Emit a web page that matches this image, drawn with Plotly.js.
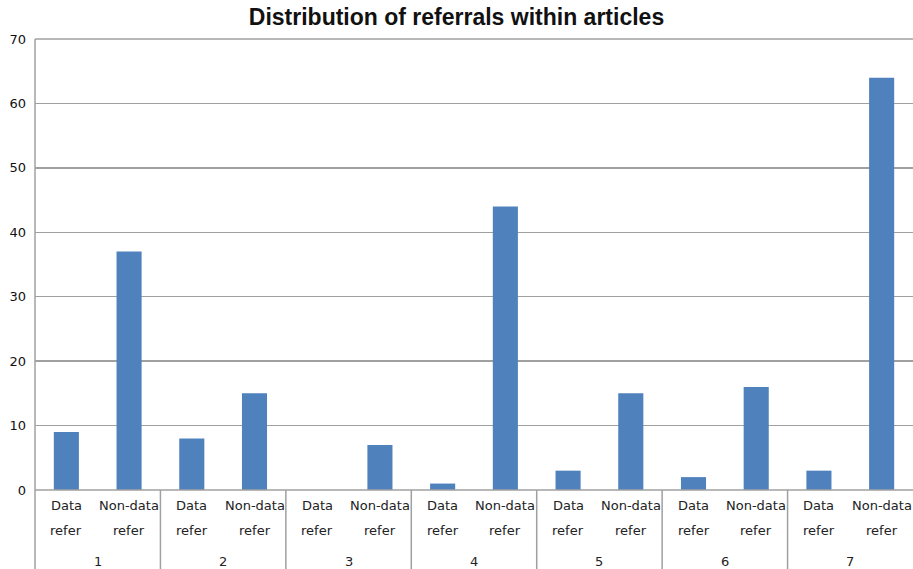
<!DOCTYPE html>
<html>
<head>
<meta charset="utf-8">
<script src="https://cdn.plot.ly/plotly-3.0.1.min.js"></script>
<style>html,body{margin:0;padding:0;background:#fff;}#chart{width:913px;height:569px;}</style>
</head>
<body>
<div id="chart"></div>
<script>
const groups = ["1", "2", "3", "4", "5", "6", "7"];
const subcatLine1 = ["Data", "Non-data"];
const subcatLine2 = ["refer", "refer"];
const dataRefer = [9, 8, 0, 1, 3, 2, 3];
const nonDataRefer = [37, 15, 7, 44, 15, 16, 64];
const yTicks = [0, 10, 20, 30, 40, 50, 60, 70];

const xs = [], ys = [];
groups.forEach((g, i) => {
  xs.push(2 * i, 2 * i + 1);
  ys.push(dataRefer[i], nonDataRefer[i]);
});

const lblFont = {family: 'DejaVu Sans', size: 13, color: '#222'};
const shapes = [];
const annotations = [];
groups.forEach((g, i) => {
  annotations.push({x: 2 * i + 0.5, xref: 'x', y: 0, yref: 'paper', yanchor: 'middle', yshift: -71,
    text: g, showarrow: false, font: lblFont});
  [0, 1].forEach(k => {
    annotations.push({x: 2 * i + k, xref: 'x', y: 0, yref: 'paper', yanchor: 'middle', yshift: -15,
      text: subcatLine1[k], showarrow: false, font: lblFont});
    annotations.push({x: 2 * i + k, xref: 'x', y: 0, yref: 'paper', yanchor: 'middle', yshift: -40,
      text: subcatLine2[k], showarrow: false, font: lblFont});
  });
  if (i > 0) {
    shapes.push({type: 'line', xref: 'x', yref: 'paper', x0: 2 * i - 0.5, x1: 2 * i - 0.5,
      y0: 0, y1: -0.2, line: {color: '#a0a0a0', width: 1.5}});
  }
});
shapes.push({type: 'line', xref: 'paper', yref: 'paper', x0: 0, x1: 0, y0: 1, y1: -0.2,
  line: {color: '#a0a0a0', width: 1.5}});
shapes.push({type: 'line', xref: 'paper', yref: 'paper', x0: 0, x1: 1, y0: 1, y1: 1,
  line: {color: '#a0a0a0', width: 1.5}});
shapes.push({type: 'line', xref: 'paper', yref: 'paper', x0: 0, x1: 1, y0: 0, y1: 0,
  line: {color: '#a0a0a0', width: 1.5}});

Plotly.newPlot('chart', [{
  type: 'bar', x: xs, y: ys, width: 0.4,
  marker: {color: '#4f81bd', line: {width: 0}}, hoverinfo: 'y'
}], {
  width: 913, height: 569,
  margin: {l: 35, r: 0, t: 39, b: 79},
  paper_bgcolor: '#fff', plot_bgcolor: '#fff',
  showlegend: false,
  title: {text: '<b>Distribution of referrals within articles</b>', x: 0.5, xanchor: 'center', y: 0.985, yanchor: 'top',
    font: {family: 'Liberation Sans', size: 23, color: '#111'}},
  xaxis: {range: [-0.5, 13.5], showticklabels: false, ticks: '',
    showgrid: false, zeroline: false, showline: false, fixedrange: true},
  yaxis: {range: [0, 70], tickvals: yTicks, ticks: '', showgrid: true, gridcolor: '#a0a0a0', gridwidth: 1.5,
    zeroline: false, showline: false, ticklabelstandoff: 8,
    tickfont: {family: 'DejaVu Sans', size: 13, color: '#111'}, fixedrange: true},
  shapes: shapes, annotations: annotations
}, {displayModeBar: false, staticPlot: true});
</script>
</body>
</html>
